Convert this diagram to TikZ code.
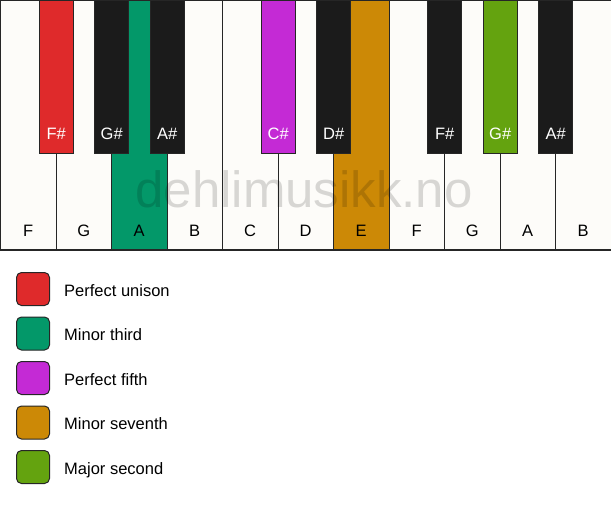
\documentclass[tikz,border=0pt]{standalone}
\usepackage{fontspec}
\setmainfont{Liberation Sans}
\definecolor{keywhite}{HTML}{FDFCF9}
\definecolor{keyblack}{HTML}{1B1B1B}
\definecolor{unison}{HTML}{DF2A2B}
\definecolor{minthird}{HTML}{039869}
\definecolor{fifth}{HTML}{C42AD5}
\definecolor{minseventh}{HTML}{CC8906}
\definecolor{majsecond}{HTML}{64A30F}
\begin{document}
\begin{tikzpicture}[x=1pt,y=-1pt,
  whitekey/.style={draw=black!85,line width=1.3pt},
  blackkey/.style={draw=black!85,line width=1pt},
  keylabel/.style={anchor=base,inner sep=0pt,font=\fontsize{16.5}{19}\selectfont},
  legendbox/.style={draw=black!85,line width=1pt,rounded corners=5pt,minimum size=33pt,inner sep=0pt},
  legendtext/.style={anchor=base west,inner sep=0pt,font=\fontsize{16.5}{19}\selectfont}]
  \useasboundingbox (0,0) rectangle (611,506);

  %draw white keys
  \foreach \n/\c [count=\i from 0] in {F/keywhite,G/keywhite,A/minthird,B/keywhite,C/keywhite,D/keywhite,E/minseventh,F/keywhite,G/keywhite,A/keywhite,B/keywhite}
  {
     \draw[whitekey,fill=\c] (\i*55.5+0.7,0.7) rectangle ++(55.5,249.3);
     \node[keylabel] (w\i) at (\i*55.5+28.2,236) {\n};
  }

  %draw black keys
  \foreach \b/\n/\c in {1/F\#/unison,2/G\#/keyblack,3/A\#/keyblack,5/C\#/fifth,6/D\#/keyblack,8/F\#/keyblack,9/G\#/majsecond,10/A\#/keyblack}
  {
     \draw[blackkey,fill=\c] (\b*55.5-16.3,0) rectangle ++(34,153);
     \node[keylabel,text=white] (b\b) at (\b*55.5+0.7,139) {\n};
  }

  %draw watermark
  \node[anchor=base,inner sep=0pt,text=black,text opacity=0.15,font=\fontsize{51}{56}\selectfont] (mark) at (304,207) {dehlimusikk.no};

  %draw legend
  \foreach \t/\c [count=\i from 0] in {Perfect unison/unison,Minor third/minthird,Perfect fifth/fifth,Minor seventh/minseventh,Major second/majsecond}
  {
     \node[legendbox,fill=\c] (box\i) at (33,289+\i*44.5) {};
     \node[legendtext] (txt\i) at (64,296+\i*44.5) {\t};
  }
\end{tikzpicture}
\end{document}
